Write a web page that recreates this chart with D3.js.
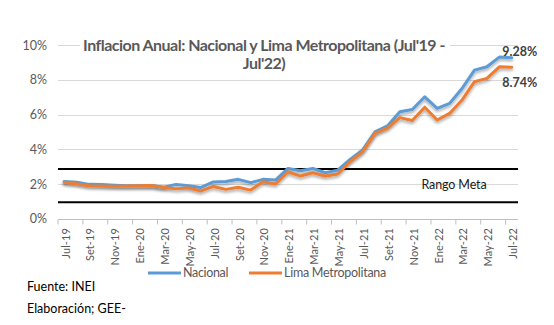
<!DOCTYPE html>
<html><head><meta charset="utf-8">
<script src="https://cdn.jsdelivr.net/npm/d3@7/dist/d3.min.js"></script>
<style>
html,body{margin:0;padding:0;background:#fff;}
svg{display:block;font-family:Lato,"Open Sans",sans-serif;}
</style></head>
<body><svg id="c" width="554" height="325"></svg>
<script>
const months = ["Jul-19","Ago-19","Set-19","Oct-19","Nov-19","Dic-19",
  "Ene-20","Feb-20","Mar-20","Abr-20","May-20","Jun-20","Jul-20","Ago-20","Set-20","Oct-20","Nov-20","Dic-20",
  "Ene-21","Feb-21","Mar-21","Abr-21","May-21","Jun-21","Jul-21","Ago-21","Set-21","Oct-21","Nov-21","Dic-21",
  "Ene-22","Feb-22","Mar-22","Abr-22","May-22","Jun-22","Jul-22"];
const nacional = [2.15,2.10,1.98,1.97,1.93,1.90,
  1.90,1.92,1.82,1.98,1.90,1.80,2.12,2.15,2.27,2.08,2.27,2.23,
  2.90,2.77,2.90,2.65,2.80,3.42,3.96,5.01,5.35,6.17,6.30,7.03,
  6.36,6.65,7.51,8.57,8.76,9.32,9.28];
const lima = [2.10,2.02,1.90,1.88,1.87,1.88,
  1.90,1.92,1.82,1.72,1.78,1.60,1.86,1.69,1.81,1.65,2.13,2.00,
  2.71,2.46,2.65,2.46,2.58,3.29,3.86,4.92,5.23,5.83,5.66,6.43,
  5.69,6.07,6.84,7.90,8.09,8.76,8.74];
const yTicks = [0,2,4,6,8,10];
const rangoMeta = [0.95, 2.86];
const seriesNames = ["Nacional","Lima Metropolitana"];
const colors = ["#5B9BD5","#ED7D31"];
const titleLines = ["Inflacion Anual: Nacional y Lima Metropolitana (Jul'19 -","Jul'22)"];

const svg = d3.select("#c");
const L = 58, R = 518, T = 45.3, B = 218.7;
const x = d3.scaleBand().domain(months).range([L, R]);
const cx = d => x(d) + x.bandwidth()/2;
const y = d3.scaleLinear().domain([0,10]).range([B, T]);

const defs = svg.append("defs");
const f = defs.append("filter").attr("id","sh").attr("x","-10%").attr("y","-20%").attr("width","120%").attr("height","160%");
f.append("feDropShadow").attr("dx",0).attr("dy",2).attr("stdDeviation",1.6).attr("flood-color","#000").attr("flood-opacity",0.35);

function fitSpacing(sel, w){
  const n = sel.node(); const len = n.getComputedTextLength();
  const chars = sel.text().length;
  sel.attr("letter-spacing", ((w-len)/chars).toFixed(3));
}

// gridlines
svg.append("g").selectAll("line").data(yTicks.filter(d=>d>0)).join("line")
  .attr("x1",L).attr("x2",R).attr("y1",d=>Math.round(y(d))+0.5).attr("y2",d=>Math.round(y(d))+0.5)
  .attr("stroke","#D9D9D9").attr("stroke-width",1);

// y axis labels
const ya = svg.append("g").attr("transform",`translate(${L},0)`)
  .call(d3.axisLeft(y).tickValues(yTicks).tickSize(0).tickPadding(11).tickFormat(d=>d+"%"));
ya.select(".domain").remove();
ya.selectAll("text").attr("font-size",12.5).attr("fill","#595959").attr("font-family","Lato,sans-serif");

// x axis
const xa = svg.append("g").attr("transform",`translate(0,${Math.round(B)+0.5})`);
xa.append("line").attr("x1",L).attr("x2",R).attr("stroke","#BFBFBF");
xa.selectAll("line.t").data(months.filter((d,i)=>i%2===0)).join("line").attr("class","t")
  .attr("x1",d=>x(d)).attr("x2",d=>x(d)).attr("y1",0).attr("y2",5).attr("stroke","#BFBFBF");
xa.selectAll("text").data(months.filter((d,i)=>i%2===0)).join("text")
  .attr("transform",d=>`translate(${cx(d)+1.5},8.5) rotate(-90)`)
  .attr("text-anchor","end").attr("dy","0.35em")
  .attr("font-size",11).attr("letter-spacing",0.1).attr("fill","#595959").text(d=>d);

// rango meta lines
svg.append("g").selectAll("line").data(rangoMeta).join("line")
  .attr("x1",L).attr("x2",R).attr("y1",d=>y(d)).attr("y2",d=>y(d))
  .attr("stroke","#000").attr("stroke-width",2);
const rm = svg.append("text").attr("x",421.5).attr("y",y(1.95)).attr("dy","0.35em")
  .attr("font-size",12.5).attr("fill","#1a1a1a").text("Rango Meta");
fitSpacing(rm, 65);

// lines
const line = d3.line().x((d,i)=>cx(months[i])).y(d=>y(d));
[nacional, lima].forEach((s,k)=>{
  svg.append("path").datum(s).attr("d",line).attr("fill","none")
    .attr("stroke",colors[k]).attr("stroke-width",3).attr("stroke-linejoin","round")
    .attr("stroke-linecap","round").attr("filter","url(#sh)");
});

// data labels
const last = months.length-1;
svg.append("text").attr("x",cx(months[last])+8).attr("y",y(nacional[last])-6).attr("dy","0.35em")
  .attr("text-anchor","middle").attr("font-size",12.5).attr("font-weight","bold").attr("fill","#404040")
  .text(nacional[last].toFixed(2)+"%");
svg.append("text").attr("x",cx(months[last])+8).attr("y",y(lima[last])+15).attr("dy","0.35em")
  .attr("text-anchor","middle").attr("font-size",12.5).attr("font-weight","bold").attr("fill","#404040")
  .text(lima[last].toFixed(2)+"%");

// title
const tg = svg.append("g");
tg.append("rect").attr("x",80).attr("y",35).attr("width",370).attr("height",38).attr("fill","#fff");
const t1 = tg.append("text").attr("x",264).attr("y",45).attr("dy","0.35em").attr("text-anchor","middle")
  .attr("font-size",16).attr("font-weight","bold").attr("fill","#595959").text(titleLines[0]);
fitSpacing(t1, 362);
tg.append("text").attr("x",264).attr("y",63).attr("dy","0.35em").attr("text-anchor","middle")
  .attr("font-size",16).attr("letter-spacing",t1.attr("letter-spacing"))
  .attr("font-weight","bold").attr("fill","#595959").text(titleLines[1]);

// legend
const lg = svg.append("g");
const legX = [148, 249];
seriesNames.forEach((n,k)=>{
  lg.append("line").attr("x1",legX[k]).attr("x2",legX[k]+33).attr("y1",273).attr("y2",273)
    .attr("stroke",colors[k]).attr("stroke-width",3);
  const t = lg.append("text").attr("x",legX[k]+35).attr("y",273).attr("dy","0.35em")
    .attr("font-size",12.5).attr("fill","#595959").text(n);
  fitSpacing(t, k===0?45:102);
});

// footer
svg.append("text").attr("x",27).attr("y",287).attr("dy","0.35em").attr("font-size",12.5).attr("fill","#000").text("Fuente: INEI");
svg.append("text").attr("x",27).attr("y",309).attr("dy","0.35em").attr("font-size",12.5).attr("fill","#000").text("Elaboración; GEE-");
</script></body></html>
